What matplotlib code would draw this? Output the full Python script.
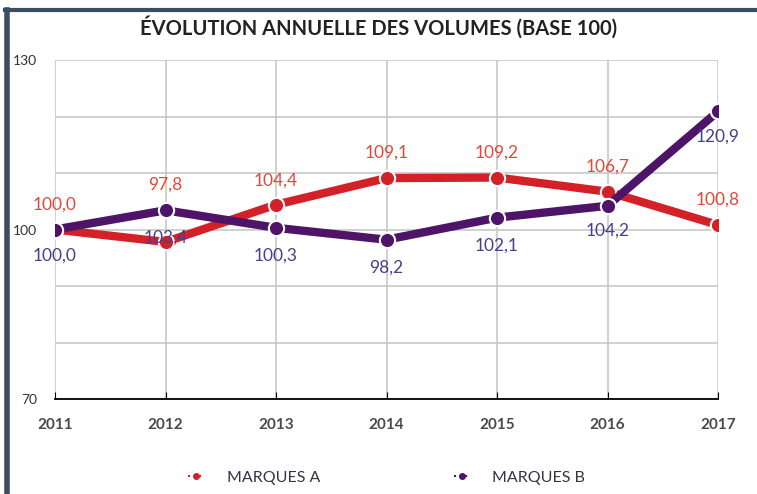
import matplotlib
matplotlib.use("Agg")
import matplotlib.pyplot as plt
from matplotlib.lines import Line2D

years = [2011, 2012, 2013, 2014, 2015, 2016, 2017]
marques_a = [100.0, 97.8, 104.4, 109.1, 109.2, 106.7, 100.8]
marques_b = [100.0, 103.4, 100.3, 98.2, 102.1, 104.2, 120.9]
# vertical offsets of the value labels (points)
off_a = [18, 41, 17, 18, 18, 18, 18]
off_b = [-19, -20, -20, -20, -20, -18, -18]

red = "#d42027"
purple = "#4e1468"
red_txt = "#e2483a"
purple_txt = "#463f8c"

plt.rcParams['font.family'] = ['Lato', 'DejaVu Sans']

fig = plt.figure(figsize=(7.57, 4.94), dpi=100)
ax = fig.add_axes([0.0727, 0.1923, 0.8758, 0.6862])

ax.plot(years, marques_a, color=red, lw=6, marker="o", ms=11,
        mfc=red, mec="white", mew=1.5, zorder=3, solid_capstyle="round")
ax.plot(years, marques_b, color=purple, lw=6, marker="o", ms=11,
        mfc=purple, mec="white", mew=1.5, zorder=4, solid_capstyle="round")

def fmt(v):
    return f"{v:.1f}".replace(".", ",")

for x, v, o in zip(years, marques_a, off_a):
    ax.annotate(fmt(v), (x, v), xytext=(0, o), textcoords="offset points",
                ha="center", va="center", color=red_txt, fontsize=12.5, zorder=6)
for x, v, o in zip(years, marques_b, off_b):
    ax.annotate(fmt(v), (x, v), xytext=(0, o), textcoords="offset points",
                ha="center", va="center", color=purple_txt, fontsize=12.5, zorder=6)

ax.set_xlim(2011, 2017)
ax.set_ylim(70, 130)
ax.set_yticks(range(70, 131, 10), minor=False)
ax.set_yticklabels(["70", "", "", "100", "", "", "130"])
ax.set_xticks(years)
ax.grid(True, color="#c8c8c8", lw=1.2, zorder=0)
for s in ["top", "right", "left"]:
    ax.spines[s].set_visible(False)
ax.spines["bottom"].set_color("black")
ax.spines["bottom"].set_linewidth(1.3)
ax.tick_params(axis="y", length=0, pad=13, labelsize=10, labelcolor="#333333")
ax.tick_params(axis="x", direction="in", length=5, color="black", pad=14,
               labelsize=11, labelcolor="#4a4a4a")
for t in ax.get_xticklabels():
    t.set_fontweight("bold")

fig.text(0.50, 0.944, "ÉVOLUTION ANNUELLE DES VOLUMES (BASE 100)",
         ha="center", va="center", fontsize=14.5, fontweight="bold", color="#222222")

# frame of the screenshot
fig.add_artist(Line2D([0.009, 0.009], [0.0, 0.98], transform=fig.transFigure,
                      color="#3d4d60", lw=4))
fig.add_artist(Line2D([0.007, 1.0], [0.98, 0.98], transform=fig.transFigure,
                      color="#3d4d60", lw=3))

handles = [Line2D([0], [0], color=red, lw=1.5, ls=":", marker="o", ms=4),
           Line2D([0], [0], color=purple, lw=1.5, ls=":", marker="o", ms=4)]
fig.legend(handles, ["MARQUES A", "MARQUES B"], loc="center",
           bbox_to_anchor=(0.511, 0.033), ncol=2, frameon=False,
           fontsize=11.5, handlelength=1.0, handletextpad=1.4,
           columnspacing=8.4, labelcolor="#333344")

fig.savefig("out.png", dpi=100)
